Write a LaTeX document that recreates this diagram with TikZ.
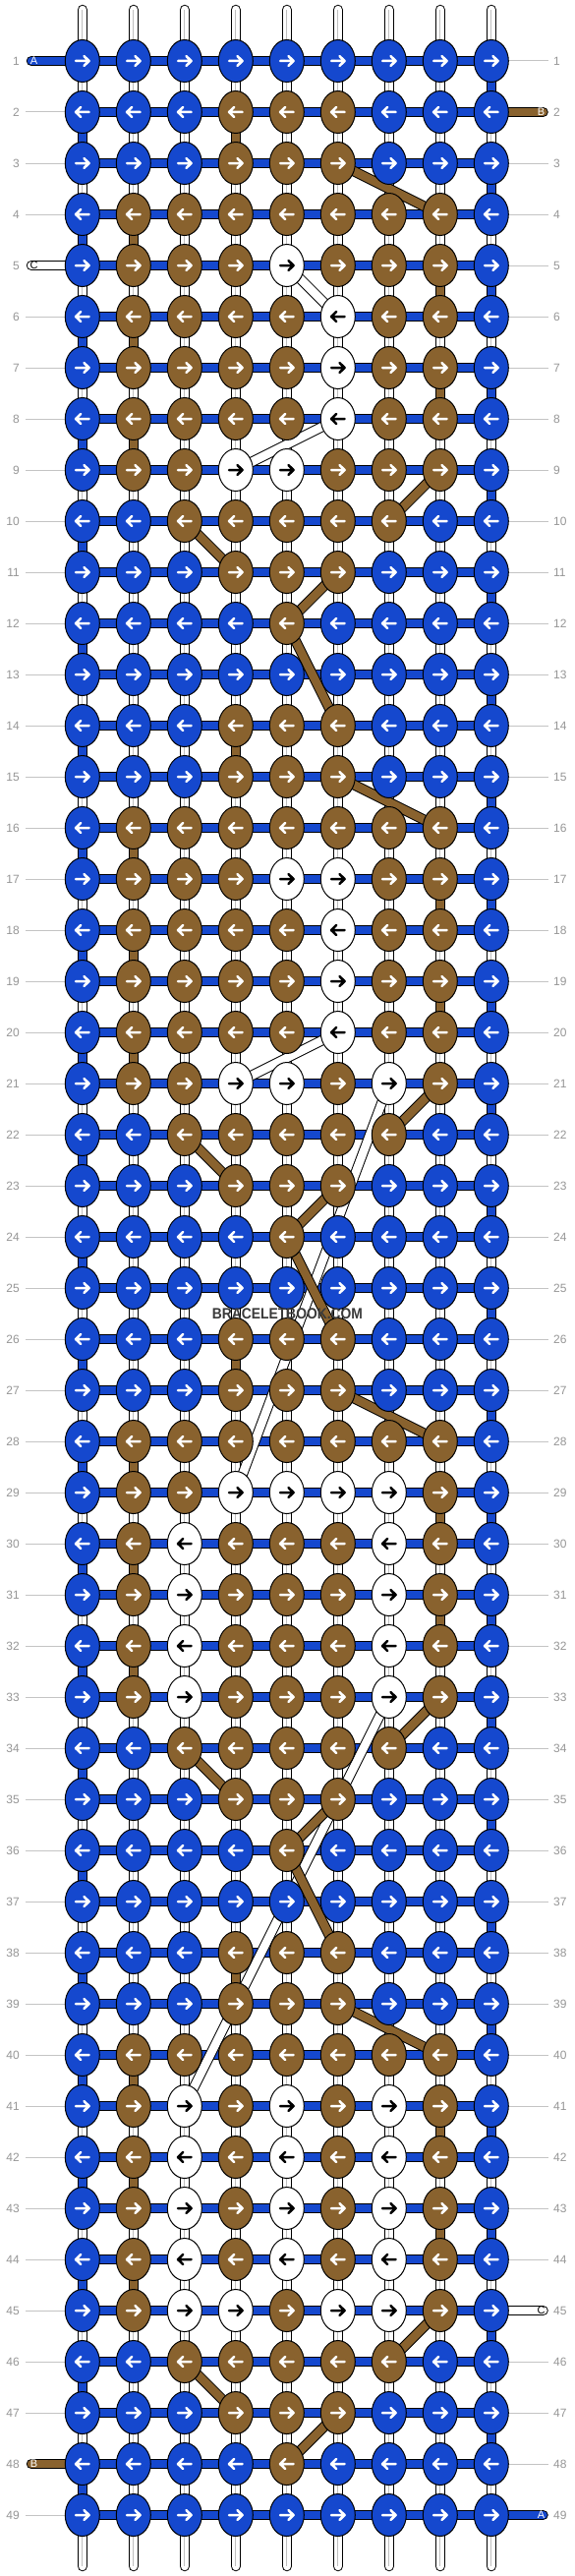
\documentclass[tikz,border=0pt]{standalone}
\usepackage{fontspec}
\setmainfont{Liberation Sans}
\usetikzlibrary{shapes.geometric,backgrounds}

\definecolor{kb}{RGB}{21,72,206}
\definecolor{kn}{RGB}{137,98,46}
\colorlet{kw}{white}
\colorlet{ab}{white}
\colorlet{an}{white}
\colorlet{aw}{black}
\definecolor{lblgray}{RGB}{150,150,150}
\definecolor{linegray}{RGB}{196,196,196}
\definecolor{wmgray}{RGB}{58,58,58}

\tikzset{
  knot/.style={ellipse, draw=black, line width=1pt, minimum width=35pt, minimum height=43pt, inner sep=0pt},
  knotarrow/.style={line width=2.5pt, line cap=round, line join=round},
  thread/.style={draw=black, line width=1pt, double distance=8.5pt},
  warp/.style={thread, double=white, line cap=round},
  warpmid/.style={draw=black!25, line width=0.7pt},
  tagstr/.style={thread, line cap=round},
  rowline/.style={draw=linegray, line width=1pt},
  rowlbl/.style={inner sep=0pt, text=lblgray, font=\fontsize{12}{12}\selectfont},
  tagtxt/.style={inner sep=0pt, font=\fontsize{11}{11}\selectfont},
  wmark/.style={inner sep=0pt, text=wmgray, font=\bfseries\fontsize{15.4}{15.4}\selectfont, xscale=0.9}
}

\begin{document}
\begin{tikzpicture}[x=1pt,y=-1pt]
\useasboundingbox (0,0) rectangle (584,2620);

% knots, row by row
\foreach \r/\cols in {
  1/{b,b,b,b,b,b,b,b,b}, 2/{b,b,b,n,n,n,b,b,b}, 3/{b,b,b,n,n,n,b,b,b},
  4/{b,n,n,n,n,n,n,n,b}, 5/{b,n,n,n,w,n,n,n,b}, 6/{b,n,n,n,n,w,n,n,b},
  7/{b,n,n,n,n,w,n,n,b}, 8/{b,n,n,n,n,w,n,n,b}, 9/{b,n,n,w,w,n,n,n,b},
  10/{b,b,n,n,n,n,n,b,b}, 11/{b,b,b,n,n,n,b,b,b}, 12/{b,b,b,b,n,b,b,b,b},
  13/{b,b,b,b,b,b,b,b,b}, 14/{b,b,b,n,n,n,b,b,b}, 15/{b,b,b,n,n,n,b,b,b},
  16/{b,n,n,n,n,n,n,n,b}, 17/{b,n,n,n,w,w,n,n,b}, 18/{b,n,n,n,n,w,n,n,b},
  19/{b,n,n,n,n,w,n,n,b}, 20/{b,n,n,n,n,w,n,n,b}, 21/{b,n,n,w,w,n,w,n,b},
  22/{b,b,n,n,n,n,n,b,b}, 23/{b,b,b,n,n,n,b,b,b}, 24/{b,b,b,b,n,b,b,b,b},
  25/{b,b,b,b,b,b,b,b,b}, 26/{b,b,b,n,n,n,b,b,b}, 27/{b,b,b,n,n,n,b,b,b},
  28/{b,n,n,n,n,n,n,n,b}, 29/{b,n,n,w,w,w,w,n,b}, 30/{b,n,w,n,n,n,w,n,b},
  31/{b,n,w,n,n,n,w,n,b}, 32/{b,n,w,n,n,n,w,n,b}, 33/{b,n,w,n,n,n,w,n,b},
  34/{b,b,n,n,n,n,n,b,b}, 35/{b,b,b,n,n,n,b,b,b}, 36/{b,b,b,b,n,b,b,b,b},
  37/{b,b,b,b,b,b,b,b,b}, 38/{b,b,b,n,n,n,b,b,b}, 39/{b,b,b,n,n,n,b,b,b},
  40/{b,n,n,n,n,n,n,n,b}, 41/{b,n,w,n,w,n,w,n,b}, 42/{b,n,w,n,w,n,w,n,b},
  43/{b,n,w,n,w,n,w,n,b}, 44/{b,n,w,n,w,n,w,n,b}, 45/{b,n,w,w,n,w,w,n,b},
  46/{b,b,n,n,n,n,n,b,b}, 47/{b,b,b,n,n,n,b,b,b}, 48/{b,b,b,b,n,b,b,b,b},
  49/{b,b,b,b,b,b,b,b,b}}{
  \pgfmathsetmacro\dir{isodd(\r) ? 1 : -1}
  \foreach \k [count=\c] in \cols{
    \node[knot, fill=k\k] (k-\r-\c) at ({83.8+52*(\c-1)},{62+52*(\r-1)}) {};
    \draw[knotarrow, draw=a\k] (k-\r-\c.center) ++({-6.8*\dir},0) -- ++({13.6*\dir},0)
      ++({-5.2*\dir},-5) -- ++({5.2*\dir},5) -- ++({-5.2*\dir},5);
  }
}

% row numbers
\foreach \r in {1,...,49}{
  \node[rowlbl, anchor=east] (ll-\r) at (20,{62+52*(\r-1)}) {\r};
  \node[rowlbl, anchor=west] (lr-\r) at (563,{62+52*(\r-1)}) {\r};
}

\begin{scope}[on background layer]
  \fill[white] (0,0) rectangle (584,2620);
  % vertical strings
  \foreach \c in {1,...,9}{
    \coordinate (top-\c) at ({83.8+52*(\c-1)},10);
    \coordinate (bot-\c) at ({83.8+52*(\c-1)},2610);
    \draw[warp] (top-\c) -- (bot-\c);
    \draw[warpmid] (top-\c) -- (bot-\c);
  }
  % turns of the blue thread
  \foreach \r in {1,...,48}{
    \pgfmathtruncatemacro\nr{\r+1}
    \pgfmathtruncatemacro\ec{isodd(\r) ? 9 : 1}
    \draw[thread, double=kb] (k-\r-\ec.center) -- (k-\nr-\ec.center);
  }
  % turns of the brown thread
  \foreach \r/\c in {2/4,4/2,5/8,6/2,7/8,8/2,14/4,16/2,17/8,18/2,19/8,20/2,
      26/4,28/2,29/8,30/2,31/8,32/2,38/4,40/2,41/8,42/2,43/8,44/2}{
    \pgfmathtruncatemacro\nr{\r+1}
    \draw[thread, double=kn] (k-\r-\c.center) -- (k-\nr-\c.center);
  }
  % horizontal background thread
  \foreach \r in {1,...,49}
    \draw[thread, double=kb] (k-\r-1.center) -- (k-\r-9.center);
  % white thread moves
  \foreach \a/\b/\p/\q in {5/5/6/6, 8/6/9/4, 20/6/21/4, 21/7/29/4, 33/7/41/3}
    \draw[thread, double=white] (k-\a-\b.center) -- (k-\p-\q.center);
  % brown thread moves
  \foreach \a/\b/\p/\q in {3/6/4/8, 9/8/10/7, 10/3/11/4, 11/6/12/5, 12/5/14/6,
      15/6/16/8, 21/8/22/7, 22/3/23/4, 23/6/24/5, 24/5/26/6, 27/6/28/8,
      33/8/34/7, 34/3/35/4, 35/6/36/5, 36/5/38/6, 39/6/40/8, 45/8/46/7,
      46/3/47/4, 47/6/48/5}
    \draw[thread, double=kn] (k-\a-\b.center) -- (k-\p-\q.center);
  % guide lines
  \foreach \r in {2,3,4,6,7,...,47,49}
    \draw[rowline, shorten <=6pt] (ll-\r.east) -- (k-\r-1.center);
  \foreach \r in {1,3,4,...,44,46,47,48}
    \draw[rowline, shorten >=5.5pt] (k-\r-9.center) -- (lr-\r.west);
  % loose ends
  \coordinate (endA1) at (32,62);
  \coordinate (endC1) at (32,270);
  \coordinate (endB1) at (32,2506);
  \coordinate (endB2) at (552.5,114);
  \coordinate (endC2) at (552.5,2350);
  \coordinate (endA2) at (552.5,2558);
  \draw[tagstr, double=kb] (endA1) -- (k-1-1.center);
  \draw[tagstr, double=white] (endC1) -- (k-5-1.center);
  \draw[tagstr, double=kn] (endB1) -- (k-48-1.center);
  \draw[tagstr, double=kn] (endB2) -- (k-2-9.center);
  \draw[tagstr, double=white] (endC2) -- (k-45-9.center);
  \draw[tagstr, double=kb] (endA2) -- (k-49-9.center);
\end{scope}

\node[tagtxt, text=white] (tagA1) at (34.5,62) {A};
\node[tagtxt, text=black] (tagC1) at (34.5,270) {C};
\node[tagtxt, text=white] (tagB1) at (34.5,2506) {B};
\node[tagtxt, text=white] (tagB2) at (550.5,114) {B};
\node[tagtxt, text=black] (tagC2) at (550.5,2350) {C};
\node[tagtxt, text=white] (tagA2) at (550.5,2558) {A};

\node[wmark] (wm) at (292.4,1336) {BRACELETBOOK.COM};
\end{tikzpicture}
\end{document}
